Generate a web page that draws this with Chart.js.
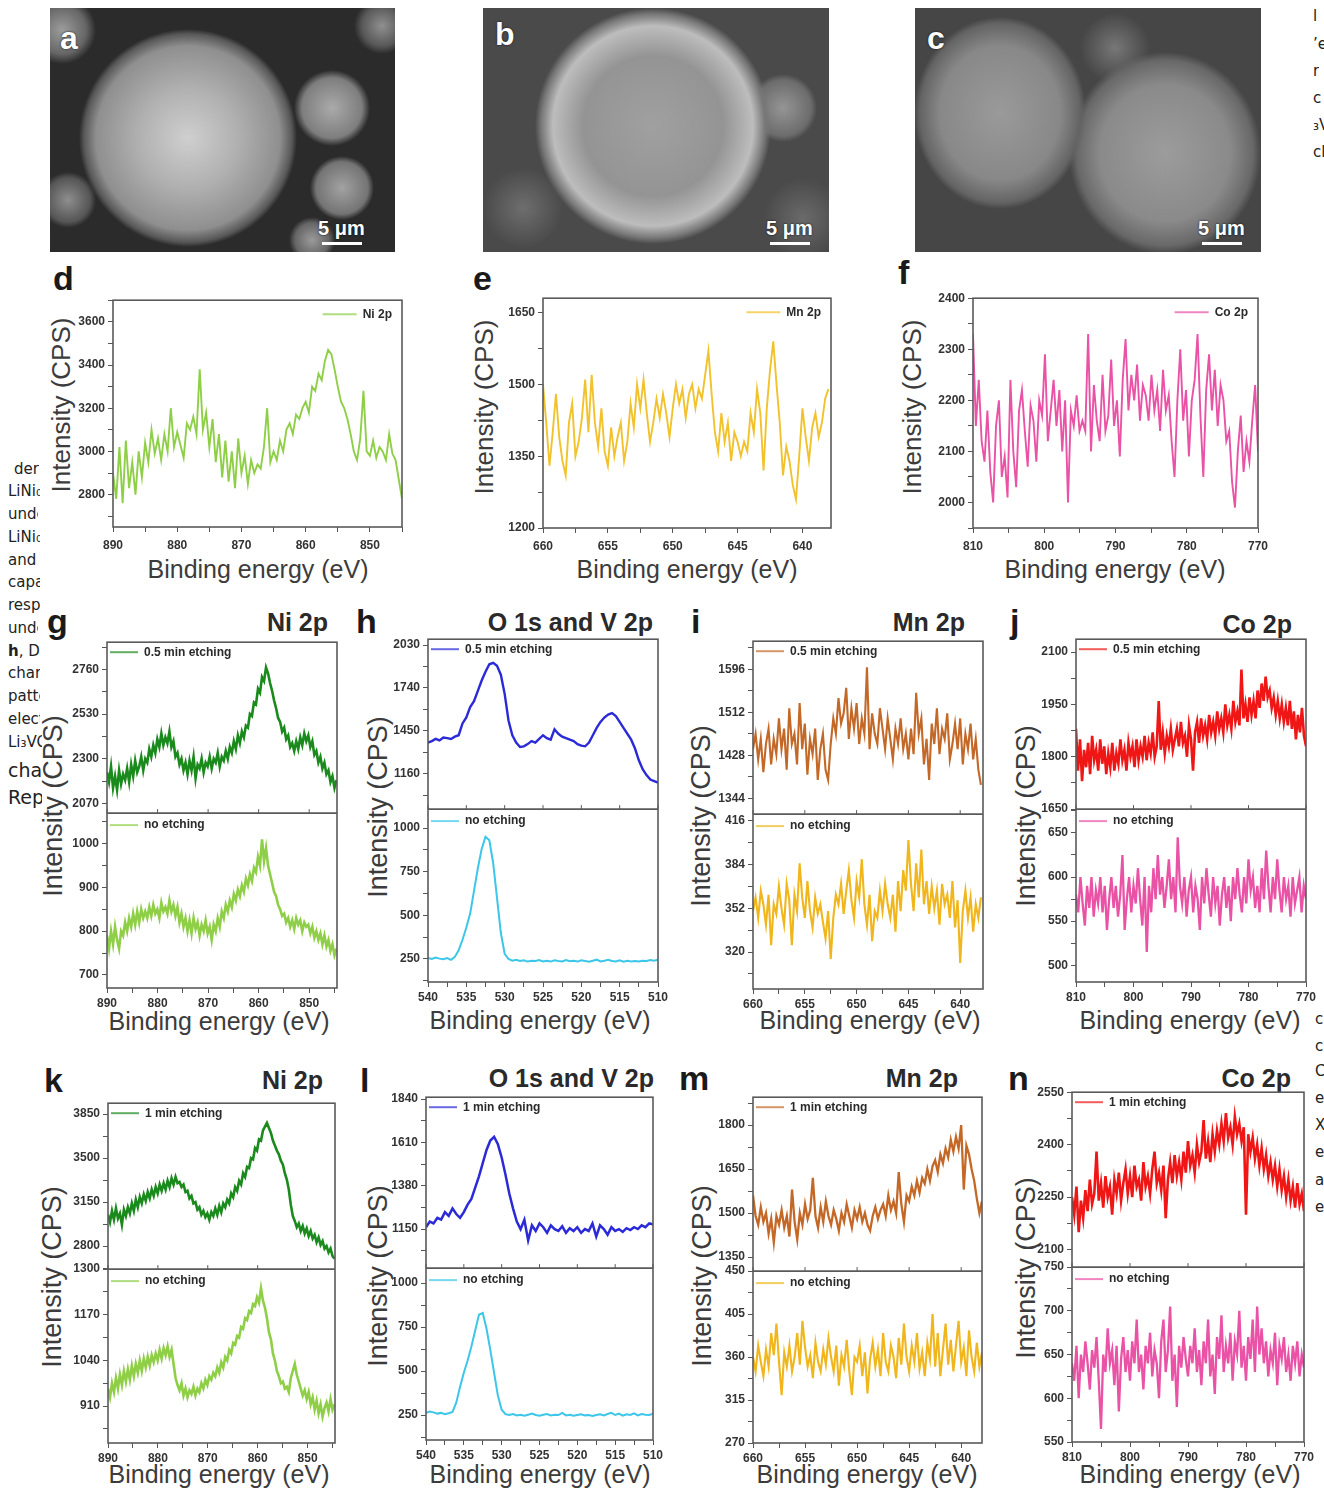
<!DOCTYPE html>
<html><head><meta charset="utf-8">
<script src="https://cdn.jsdelivr.net/npm/chart.js@4.4.1/dist/chart.umd.min.js"></script>
<style>
html,body{margin:0;padding:0;background:#fff;}
#fig{position:relative;width:1324px;height:1490px;overflow:hidden;font-family:'Liberation Sans',Arial,sans-serif;background:#fff;}
.cv{position:absolute;}
.lt{position:absolute;font-weight:bold;color:#1a1a1a;font-size:34px;line-height:1;}
.hd{position:absolute;font-weight:bold;color:#2a2a2a;font-size:25px;line-height:1;white-space:nowrap;transform:translate(-100%,-50%);}
.xt{position:absolute;color:#3c3c3c;font-size:25px;white-space:nowrap;transform:translate(-50%,-50%);line-height:1;}
.yt{position:absolute;color:#3c3c3c;font-size:26px;white-space:nowrap;transform:translate(-50%,-50%) rotate(-90deg);line-height:1;}
.yt.big{font-size:27px;}
.side{position:absolute;font-family:'DejaVu Sans',sans-serif;font-size:15px;color:#222;white-space:nowrap;overflow:hidden;line-height:18px;}
.sem{position:absolute;overflow:hidden;}
.semlab{position:absolute;color:#fff;font-weight:bold;font-size:32px;line-height:1;text-shadow:0 0 2px #000;}
.scl{position:absolute;color:#fff;font-weight:bold;font-size:20px;line-height:1;text-shadow:0 0 2px #000;}
.bar{position:absolute;height:3px;background:#fff;}
</style></head>
<body>
<div id="fig">
  <!-- side text fragments (page text cut by the figure) -->
  <div class="side" style="left:14px;top:460px;width:25px;">derived</div>
  <div class="side" style="left:8px;top:482px;width:32px;">LiNi₀.₈</div>
  <div class="side" style="left:8px;top:505px;width:30px;">under</div>
  <div class="side" style="left:8px;top:528px;width:32px;">LiNi₀.₈</div>
  <div class="side" style="left:8px;top:551px;width:30px;">and</div>
  <div class="side" style="left:8px;top:573px;width:32px;">capacity</div>
  <div class="side" style="left:8px;top:596px;width:32px;">response</div>
  <div class="side" style="left:8px;top:619px;width:30px;">under</div>
  <div class="side" style="left:8px;top:642px;width:32px;"><b>h</b>, Discharge</div>
  <div class="side" style="left:8px;top:664px;width:32px;">charge</div>
  <div class="side" style="left:8px;top:687px;width:32px;">pattern</div>
  <div class="side" style="left:8px;top:710px;width:32px;">electrode</div>
  <div class="side" style="left:8px;top:733px;width:34px;">Li₃VO₄</div>
  <div class="side" style="left:8px;top:759px;width:34px;font-size:19px;line-height:22px;">charge</div>
  <div class="side" style="left:8px;top:786px;width:34px;font-size:19px;line-height:22px;">Rep</div>
  <div class="side" style="left:1313px;top:7px;">l</div>
  <div class="side" style="left:1313px;top:35px;">’e</div>
  <div class="side" style="left:1313px;top:62px;">r</div>
  <div class="side" style="left:1313px;top:89px;">c</div>
  <div class="side" style="left:1313px;top:116px;">₃V</div>
  <div class="side" style="left:1313px;top:143px;">cl</div>
  <div class="side" style="left:1315px;top:1010px;">c</div>
  <div class="side" style="left:1315px;top:1037px;">c</div>
  <div class="side" style="left:1315px;top:1062px;">C</div>
  <div class="side" style="left:1315px;top:1089px;">e</div>
  <div class="side" style="left:1315px;top:1116px;">X</div>
  <div class="side" style="left:1315px;top:1143px;">e</div>
  <div class="side" style="left:1315px;top:1171px;">a</div>
  <div class="side" style="left:1315px;top:1198px;">e</div>

  <!-- SEM micrographs (picture panels) -->
  <div class="sem" style="left:50px;top:8px;width:345px;height:244px;background:
    radial-gradient(circle at 138px 130px, #cfcfcf 0px, #b0b0b0 50px, #8f8f8f 92px, #585858 104px, rgba(0,0,0,0) 109px),
    radial-gradient(circle at 282px 100px, #aaaaaa 0, #7e7e7e 30px, rgba(0,0,0,0) 38px),
    radial-gradient(circle at 292px 180px, #a2a2a2 0, #747474 26px, rgba(0,0,0,0) 32px),
    radial-gradient(circle at 262px 232px, #9a9a9a 0, #666 17px, rgba(0,0,0,0) 23px),
    radial-gradient(circle at 18px 192px, #8e8e8e 0, #565656 22px, rgba(0,0,0,0) 28px),
    radial-gradient(circle at 12px 22px, #9c9c9c 0, #666 24px, rgba(0,0,0,0) 34px),
    radial-gradient(circle at 332px 18px, #909090 0, #585858 20px, rgba(0,0,0,0) 28px),
    #2b2b2b;">
    <div class="semlab" style="left:10px;top:14px;">a</div>
    <div class="scl" style="left:268px;top:210px;">5 μm</div>
    <div class="bar" style="left:272px;top:234px;width:40px;"></div>
  </div>
  <div class="sem" style="left:483px;top:8px;width:346px;height:244px;background:
    radial-gradient(circle at 170px 118px, #a0a0a0 0px, #949494 70px, #bdbdbd 100px, #777 112px, rgba(0,0,0,0) 118px),
    radial-gradient(circle at 300px 100px, #959595 0, #6c6c6c 28px, rgba(0,0,0,0) 34px),
    radial-gradient(circle at 40px 200px, #6e6e6e 0, rgba(0,0,0,0) 40px),
    radial-gradient(circle at 320px 210px, #6a6a6a 0, rgba(0,0,0,0) 40px),
    #4a4a4a;">
    <div class="semlab" style="left:12px;top:10px;">b</div>
    <div class="scl" style="left:283px;top:210px;">5 μm</div>
    <div class="bar" style="left:287px;top:234px;width:40px;"></div>
  </div>
  <div class="sem" style="left:915px;top:8px;width:346px;height:244px;background:
    radial-gradient(ellipse 85px 95px at 85px 105px, #9a9a9a 0px, #888 60px, #646464 80px, rgba(0,0,0,0) 86px),
    radial-gradient(ellipse 95px 100px at 250px 145px, #9c9c9c 0px, #8a8a8a 65px, #686868 88px, rgba(0,0,0,0) 96px),
    radial-gradient(circle at 200px 40px, #777 0, rgba(0,0,0,0) 35px),
    #464646;">
    <div class="semlab" style="left:12px;top:14px;">c</div>
    <div class="scl" style="left:283px;top:210px;">5 μm</div>
    <div class="bar" style="left:287px;top:234px;width:40px;"></div>
  </div>

  <!-- panel letters -->
  <div class="lt" style="left:53px;top:261px;">d</div>
  <div class="lt" style="left:473px;top:261px;">e</div>
  <div class="lt" style="left:898px;top:255px;">f</div>
  <div class="lt" style="left:47px;top:604px;">g</div>
  <div class="lt" style="left:356px;top:604px;">h</div>
  <div class="lt" style="left:691px;top:604px;">i</div>
  <div class="lt" style="left:1010px;top:604px;">j</div>
  <div class="lt" style="left:44px;top:1063px;">k</div>
  <div class="lt" style="left:360px;top:1063px;">l</div>
  <div class="lt" style="left:679px;top:1061px;">m</div>
  <div class="lt" style="left:1008px;top:1061px;">n</div>

  <!-- panel headings -->
  <div class="hd" style="left:328px;top:622px;">Ni 2p</div>
  <div class="hd" style="left:653px;top:622px;">O 1s and V 2p</div>
  <div class="hd" style="left:965px;top:622px;">Mn 2p</div>
  <div class="hd" style="left:1292px;top:624px;">Co 2p</div>
  <div class="hd" style="left:323px;top:1080px;">Ni 2p</div>
  <div class="hd" style="left:654px;top:1078px;">O 1s and V 2p</div>
  <div class="hd" style="left:958px;top:1078px;">Mn 2p</div>
  <div class="hd" style="left:1291px;top:1078px;">Co 2p</div>

  <!-- axis titles -->
  <div class="xt" style="left:258px;top:569px;">Binding energy (eV)</div>
  <div class="xt" style="left:687px;top:569px;">Binding energy (eV)</div>
  <div class="xt" style="left:1115px;top:569px;">Binding energy (eV)</div>
  <div class="xt" style="left:219px;top:1021px;">Binding energy (eV)</div>
  <div class="xt" style="left:540px;top:1020px;">Binding energy (eV)</div>
  <div class="xt" style="left:870px;top:1020px;">Binding energy (eV)</div>
  <div class="xt" style="left:1190px;top:1020px;">Binding energy (eV)</div>
  <div class="xt" style="left:219px;top:1474px;">Binding energy (eV)</div>
  <div class="xt" style="left:540px;top:1474px;">Binding energy (eV)</div>
  <div class="xt" style="left:867px;top:1474px;">Binding energy (eV)</div>
  <div class="xt" style="left:1190px;top:1474px;">Binding energy (eV)</div>

  <div class="yt" style="left:61px;top:405px;">Intensity (CPS)</div>
  <div class="yt" style="left:484px;top:407px;">Intensity (CPS)</div>
  <div class="yt" style="left:912px;top:407px;">Intensity (CPS)</div>
  <div class="yt big" style="left:53px;top:806px;">Intensity (CPS)</div>
  <div class="yt big" style="left:378px;top:807px;">Intensity (CPS)</div>
  <div class="yt big" style="left:701px;top:816px;">Intensity (CPS)</div>
  <div class="yt big" style="left:1026px;top:816px;">Intensity (CPS)</div>
  <div class="yt big" style="left:52px;top:1277px;">Intensity (CPS)</div>
  <div class="yt big" style="left:378px;top:1276px;">Intensity (CPS)</div>
  <div class="yt big" style="left:702px;top:1276px;">Intensity (CPS)</div>
  <div class="yt big" style="left:1026px;top:1268px;">Intensity (CPS)</div>
</div>

<script>
// ---------------- DATA ----------------
// energy grids of the sampled spectra [first point, last point] (eV)
const gridNi = [890, 844.6];
const gridMn = [660, 638];
const gridCo = [810, 770];
const gridOV = [540, 510];

// x-axis tick labels
const xTicksNi = [890, 880, 870, 860, 850];
const xTicksMn = [660, 655, 650, 645, 640];
const xTicksCo = [810, 800, 790, 780, 770];
const xTicksOV = [540, 535, 530, 525, 520, 515, 510];

// y-axis tick labels
const yTicksD = [2800, 3000, 3200, 3400, 3600];
const yTicksE = [1200, 1350, 1500, 1650];
const yTicksF = [2000, 2100, 2200, 2300, 2400];
const yTicksGup = [2070, 2300, 2530, 2760];
const yTicksGlo = [700, 800, 900, 1000];
const yTicksHup = [1160, 1450, 1740, 2030];
const yTicksHlo = [250, 500, 750, 1000];
const yTicksIup = [1344, 1428, 1512, 1596];
const yTicksIlo = [320, 352, 384, 416];
const yTicksJup = [1650, 1800, 1950, 2100];
const yTicksJlo = [500, 550, 600, 650];
const yTicksKup = [2800, 3150, 3500, 3850];
const yTicksKlo = [910, 1040, 1170, 1300];
const yTicksLup = [1150, 1380, 1610, 1840];
const yTicksLlo = [250, 500, 750, 1000];
const yTicksMup = [1350, 1500, 1650, 1800];
const yTicksMlo = [270, 315, 360, 405, 450];
const yTicksNup = [2100, 2250, 2400, 2550];
const yTicksNlo = [550, 600, 650, 700, 750];

// panel d: Ni 2p (CPS)
const d_Ni2p = [2900,2780,3020,2760,3050,2830,2950,2800,3000,2880,3040,2950,3100,2990,3060,2960,3080,3000,3200,3020,
  3090,3030,2970,3130,3100,3160,3080,3380,3100,3180,3020,3150,2950,3080,2880,3050,2860,3000,2830,3060,
  2900,2980,2850,2960,2900,2940,2920,3020,3200,2950,3000,2960,3050,3000,3100,3130,3080,3170,3150,3200,
  3230,3180,3300,3280,3360,3330,3420,3470,3450,3380,3300,3230,3200,3150,3080,3000,2960,3060,3280,3000,
  2980,3050,2970,3020,3000,2960,3080,2990,2960,2870,2780];
// panel e: Mn 2p
const e_Mn2p = [1500,1420,1330,1400,1480,1390,1340,1310,1420,1460,1350,1380,1430,1510,1400,1520,1420,1370,1450,1360,
  1330,1410,1350,1390,1420,1340,1380,1460,1410,1500,1450,1510,1440,1380,1420,1470,1430,1480,1440,1390,
  1450,1500,1460,1490,1430,1480,1500,1450,1490,1470,1520,1570,1480,1400,1360,1440,1380,1420,1340,1400,
  1380,1350,1380,1360,1440,1400,1490,1440,1320,1450,1530,1590,1500,1420,1310,1370,1340,1290,1260,1350,
  1450,1390,1340,1410,1440,1390,1420,1470,1490];
// panel f: Co 2p
const f_Co2p = [2330,2150,2240,2120,2080,2180,2060,2000,2150,2200,2050,2090,2010,2240,2100,2030,2180,2220,2140,2070,
  2190,2160,2080,2200,2170,2290,2120,2180,2240,2150,2220,2100,2200,2000,2180,2150,2210,2140,2160,2140,
  2330,2100,2230,2160,2120,2250,2140,2170,2280,2150,2200,2090,2240,2320,2180,2250,2200,2270,2160,2230,
  2210,2160,2250,2180,2220,2140,2260,2180,2210,2120,2050,2200,2300,2160,2220,2090,2200,2240,2330,2170,
  2050,2220,2290,2180,2260,2150,2230,2200,2120,2140,2040,1990,2100,2170,2060,2120,2080,2160,2230,2100];

// panel g: Ni 2p
const g_Ni_05min = [2230,2180,2260,2150,2210,2140,2240,2170,2220,2190, 2250,2180,2270,2210,2290,2230,2260,2310,2240,2300,
  2280,2350,2310,2370,2330,2400,2360,2430,2370,2410, 2380,2440,2360,2390,2310,2330,2270,2300,2240,2280,
  2220,2290,2240,2310,2200,2270,2250,2300,2230,2280, 2260,2310,2250,2300,2280,2330,2260,2310,2290,2340,
  2300,2360,2330,2390,2350,2420,2380,2440,2410,2470, 2460,2530,2520,2590,2580,2660,2640,2720,2700,2770,
  2740,2690,2650,2600,2560,2510,2490,2440,2460,2400, 2420,2360,2380,2340,2390,2350,2410,2370,2430,2390,
  2420,2360,2390,2320,2340,2280,2310,2250,2280,2220, 2240,2180,2210,2150,2190];
const g_Ni_none = [790,760,800,770,810,780,760,800,790,820, 800,830,810,840,815,845,820,850,830,845,
  830,855,835,860,840,850,830,865,845,855, 840,870,845,860,835,855,820,840,810,830,
  800,825,795,830,805,820,790,815,800,825, 795,810,780,815,800,830,810,845,830,860,
  845,870,855,885,870,895,880,905,890,920, 905,930,915,945,935,970,950,1010,960,990,
  950,930,910,890,880,860,850,835,840,820, 830,810,825,805,830,815,825,800,820,810,
  815,795,810,785,800,780,795,770,790,765, 780,755,770,745,760];

// panel h: O 1s and V 2p
const h_OV_05min = [1370,1380,1395,1385,1405,1400,1395,1410,1420,1500,1540,1610,1650,1720,1790,1850,1900,1910,1890,1830,
  1700,1520,1420,1370,1340,1345,1360,1380,1370,1395,1420,1400,1390,1460,1430,1410,1400,1390,1380,1360,
  1350,1345,1370,1420,1470,1510,1540,1560,1570,1550,1510,1470,1430,1390,1330,1250,1190,1150,1120,1110,1100];
const h_OV_none = [255,250,258,252,248,255,245,262,300,360,430,510,640,770,880,950,930,800,600,400,
  280,250,240,245,238,242,235,240,238,244,236,240,235,242,238,236,244,237,240,235,
  242,238,234,240,246,236,240,245,238,236,242,234,240,236,238,235,240,238,244,240,246];

// panel i: Mn 2p
const i_Mn_05min = [1440,1470,1420,1460,1395,1450,1480,1410,1460,1430,1500,1440,1480,1400,1520,1450,1470,1410,1530,1440,
  1490,1390,1460,1430,1480,1380,1440,1470,1400,1380,1450,1500,1470,1540,1490,1510,1560,1460,1520,1480,
  1530,1450,1500,1470,1600,1440,1510,1470,1450,1520,1480,1440,1500,1460,1420,1480,1450,1500,1440,1470,
  1420,1480,1430,1550,1470,1500,1410,1460,1380,1490,1450,1520,1430,1480,1460,1510,1420,1450,1490,1440,
  1500,1410,1470,1440,1490,1420,1460,1400,1370];
const i_Mn_none = [350,360,345,365,355,340,362,325,355,348,368,352,340,370,358,325,362,350,385,360,
  345,372,350,338,360,348,355,342,330,350,315,345,362,355,370,348,365,380,358,345,
  372,360,388,355,340,362,328,350,345,365,350,370,355,345,362,335,372,350,380,365,
  402,370,350,385,360,395,355,372,348,368,352,365,340,370,355,362,345,372,338,358,
  312,350,365,345,360,335,355,345,360];

// panel j: Co 2p
const j_Co_05min = [1880,1760,1850,1730,1820,1770,1840,1750,1860,1790, 1820,1760,1850,1780,1830,1750,1810,1770,1840,1760,
  1810,1780,1850,1790,1820,1760,1840,1800,1830,1770, 1850,1790,1830,1800,1860,1790,1840,1810,1870,1800,
  1830,1960,1820,1870,1810,1860,1830,1880,1820,1850, 1880,1830,1900,1840,1860,1800,1890,1850,1760,1870,
  1900,1840,1910,1860,1890,1850,1920,1870,1900,1860, 1930,1880,1910,1870,1950,1890,1920,1880,1960,1900,
  1930,1890,2050,1910,1950,1900,1970,1920,1960,1910, 1990,1940,2010,1960,2030,1970,1990,1940,1970,1920,
  1960,1910,1950,1900,1940,1890,1960,1880,1930,1850, 1920,1870,1940,1860,1830];
const j_Co_none = [580,560,600,570,545,590,565,600,555,585, 570,600,560,590,540,575,600,565,590,555,
  580,625,540,575,600,560,590,570,610,575, 545,600,515,590,560,610,575,625,580,600,
  565,590,620,575,600,560,645,590,570,600, 555,585,600,560,590,575,540,600,570,610,
  580,555,600,570,590,545,580,600,565,590, 550,600,575,610,580,560,600,570,620,585,
  600,565,590,560,610,575,630,590,560,600, 575,620,585,560,600,575,590,555,600,570,
  585,600,560,590,575];

// panel k: Ni 2p
const k_Ni_1min = [3050,2990,3080,3010,3100,3020,3060,2970,3090,3040, 3110,3060,3140,3080,3170,3110,3190,3140,3210,3160,
  3230,3180,3250,3200,3270,3220,3290,3240,3300,3250, 3320,3270,3340,3290,3350,3300,3310,3270,3290,3230,
  3240,3180,3200,3140,3150,3090,3110,3050,3080,3030, 3060,3010,3070,3040,3100,3050,3120,3070,3140,3110,
  3170,3140,3220,3190,3270,3240,3320,3290,3380,3350, 3430,3420,3500,3490,3580,3560,3650,3640,3720,3750,
  3780,3740,3700,3640,3600,3560,3530,3480,3450,3380, 3330,3250,3130,3040,3000,2950,2980,2920,2960,2900,
  2940,2880,2920,2860,2890,2830,2870,2810,2840,2780, 2800,2750,2780,2720,2700];
const k_Ni_none = [960,935,975,950,990,960,1000,970,1010,980, 1015,985,1025,995,1030,1005,1040,1010,1045,1020,
  1050,1025,1055,1035,1060,1040,1070,1045,1075,1055, 1080,1050,1070,1030,990,970,955,975,940,960,
  935,955,945,965,940,960,950,975,960,985, 970,995,985,1005,995,1020,1005,1035,1020,1050,
  1040,1070,1060,1090,1085,1110,1105,1135,1130,1160, 1155,1180,1175,1200,1195,1220,1205,1245,1210,1190,
  1160,1120,1100,1060,1040,1010,995,975,980,960, 965,950,990,1010,1030,1000,980,960,940,955,
  930,950,915,935,900,925,890,915,880,905, 920,895,930,900,915];

// panel l: O 1s and V 2p
const l_OV_1min = [1160,1190,1180,1210,1200,1240,1220,1260,1230,1210,1240,1280,1310,1370,1430,1500,1570,1620,1640,1600,
  1530,1440,1340,1260,1190,1150,1200,1090,1170,1140,1180,1160,1130,1170,1150,1140,1165,1130,1155,1140,
  1160,1130,1150,1140,1180,1110,1170,1150,1120,1160,1140,1150,1135,1155,1145,1160,1150,1170,1160,1180,1175];
const l_OV_none = [262,270,265,258,262,255,260,268,320,410,490,560,640,730,820,830,740,620,490,360,
  280,255,250,256,248,252,246,252,258,250,246,252,256,248,252,250,262,248,252,246,
  250,254,248,250,244,250,254,248,256,262,250,258,246,254,250,260,248,256,252,250,258];

// panel m: Mn 2p
const m_Mn_1min = [1560,1490,1460,1520,1470,1500,1430,1480,1400,1490,1460,1510,1450,1490,1420,1580,1470,1410,1500,1460,
  1530,1480,1510,1620,1490,1450,1520,1470,1540,1490,1460,1510,1480,1440,1500,1470,1530,1490,1450,1510,
  1480,1520,1470,1500,1460,1440,1490,1520,1480,1510,1530,1490,1560,1510,1540,1500,1640,1530,1470,1560,
  1540,1590,1560,1610,1570,1620,1600,1650,1610,1660,1680,1640,1700,1670,1720,1690,1750,1710,1760,1720,
  1800,1580,1730,1700,1650,1610,1550,1500,1540];
const m_Mn_none = [360,345,372,355,340,368,350,385,362,395,355,320,365,350,372,345,360,385,352,398,
  370,350,362,338,375,355,345,368,352,380,360,345,372,330,362,350,378,345,320,360,
  355,372,340,365,322,358,375,350,368,340,385,355,345,372,360,338,380,352,395,360,
  345,372,355,385,348,365,340,375,358,405,350,385,340,368,395,352,378,345,372,398,
  355,370,340,388,360,345,375,350,365];

// panel n: Co 2p
const n_Co_1min = [2250,2200,2280,2150,2240,2190,2270,2210,2300,2230, 2260,2380,2240,2290,2220,2310,2250,2280,2200,2300,
  2260,2320,2240,2290,2330,2260,2310,2250,2340,2280, 2300,2240,2350,2280,2310,2260,2330,2380,2290,2320,
  2270,2340,2190,2300,2350,2290,2370,2310,2350,2300, 2380,2320,2410,2340,2370,2320,2400,2350,2380,2470,
  2360,2410,2350,2430,2380,2440,2400,2460,2410,2490, 2420,2450,2400,2480,2430,2460,2410,2450,2200,2430,
  2380,2420,2360,2400,2340,2390,2330,2370,2310,2350, 2300,2340,2280,2330,2270,2310,2250,2300,2240,2280,
  2220,2290,2230,2260,2210];
const n_Co_none = [640,620,660,600,650,630,665,640,610,655, 635,670,620,565,650,630,680,640,655,615,
  660,585,645,670,630,655,620,665,640,690, 630,650,610,660,640,675,625,655,640,600,
  665,690,630,655,705,620,650,590,660,635, 670,645,625,660,640,680,630,655,615,665,
  640,690,625,650,605,670,645,695,630,660, 640,675,620,665,650,700,635,660,620,670,
  645,690,630,705,650,680,640,665,625,655, 640,675,615,660,645,670,630,650,620,660,
  640,665,625,650,635];

// ---------------- CHART HELPERS ----------------
const FONT = "'Liberation Sans', Arial, sans-serif";
const PT = 10, PR = 16, XH = 26, YW = 46;
const fig = document.getElementById('fig');

function series(grid, values) {
  const a = grid[0], b = grid[1], n = values.length;
  return values.map((v, i) => ({ x: a + (b - a) * i / (n - 1), y: v }));
}
function tickSet(majors, min, max) {
  const m = majors.slice().sort((p, q) => p - q);
  const step = m[1] - m[0];
  const out = [];
  for (let k = -2; k <= (m.length - 1) * 2 + 2; k++) {
    const v = +(m[0] + k * step / 2).toFixed(4);
    if (v >= min - 1e-6 && v <= max + 1e-6) out.push({ value: v });
  }
  return out;
}
const tickFont = { family: FONT, size: 12, weight: 'bold' };
const tickGrid = { display: true, drawOnChartArea: false, drawTicks: true, tickLength: 5, color: '#555', lineWidth: 1 };

function yAxis(majors, range, extra) {
  return Object.assign({
    type: 'linear', position: 'left', min: range[0], max: range[1],
    afterFit: s => { s.width = YW; },
    afterBuildTicks: s => { s.ticks = tickSet(majors, range[0], range[1]); },
    ticks: { callback: v => majors.includes(v) ? String(v) : '', font: tickFont, color: '#333', padding: 3, autoSkip: false },
    grid: tickGrid, border: { display: false }
  }, extra || {});
}
function xAxis(majors, range, pad) {
  return {
    type: 'linear', reverse: true, min: range[0], max: range[1],
    afterFit: s => { s.height = XH; },
    afterBuildTicks: s => { s.ticks = tickSet(majors, range[0], range[1]); },
    ticks: { callback: v => majors.includes(v) ? String(v) : '', font: tickFont, color: '#333', padding: pad || 3, autoSkip: false, maxRotation: 0 },
    grid: tickGrid, border: { display: false }
  };
}

const framePlugin = {
  id: 'frame',
  afterDraw(chart) {
    const { ctx, chartArea: a } = chart;
    ctx.save();
    ctx.strokeStyle = '#5a5a5a'; ctx.lineWidth = 1.6;
    ctx.strokeRect(a.left, a.top, a.right - a.left, a.bottom - a.top);
    const up = chart.scales.yT;
    if (up) {
      const y = up.bottom;
      ctx.beginPath(); ctx.moveTo(a.left, y); ctx.lineTo(a.right, y); ctx.stroke();
      ctx.lineWidth = 1;
      const xs = chart.scales.x;
      xs.ticks.forEach(t => {
        if (!t.label) return;
        const px = xs.getPixelForValue(t.value);
        ctx.beginPath(); ctx.moveTo(px, y); ctx.lineTo(px, y - 4); ctx.stroke();
      });
    }
    ctx.restore();
  }
};
const legendPlugin = {
  id: 'inlegend',
  afterDatasetsDraw(chart, args, opts) {
    const { ctx, chartArea: a } = chart;
    ctx.save();
    ctx.font = "bold 12px " + FONT;
    ctx.textBaseline = 'middle';
    chart.data.datasets.forEach(ds => {
      const sc = chart.scales[ds.yAxisID];
      let x0, y, len;
      if (opts.pos === 'right') {
        const tw = ctx.measureText(ds.label).width;
        len = 34; x0 = a.right - 10 - tw - 6 - len; y = a.top + 14;
      } else {
        len = 28; x0 = a.left + 3; y = sc.top + (ds.yAxisID === 'yT' ? 10 : 12);
      }
      ctx.globalAlpha = 0.7; ctx.strokeStyle = ds.borderColor; ctx.lineWidth = 2;
      ctx.beginPath(); ctx.moveTo(x0, y); ctx.lineTo(x0 + len, y); ctx.stroke();
      ctx.globalAlpha = 1; ctx.fillStyle = '#2a2a2a';
      ctx.fillText(ds.label, x0 + len + 6, y);
    });
    ctx.restore();
  }
};

function makeChart(rect, scales, datasets, legendPos) {
  const c = document.createElement('canvas');
  const w = rect.R - rect.L + YW + PR, h = rect.B - rect.T + PT + XH;
  c.width = w; c.height = h;
  c.className = 'cv';
  c.style.left = (rect.L - YW) + 'px'; c.style.top = (rect.T - PT) + 'px';
  c.style.width = w + 'px'; c.style.height = h + 'px';
  fig.appendChild(c);
  new Chart(c, {
    type: 'line',
    data: { datasets },
    options: {
      responsive: false, animation: false, devicePixelRatio: 1,
      layout: { padding: { left: 0, top: PT, right: PR, bottom: 0 } },
      plugins: { legend: { display: false }, tooltip: { enabled: false }, inlegend: { pos: legendPos } },
      elements: { point: { radius: 0 }, line: { tension: 0, borderWidth: 1.4 } },
      scales
    },
    plugins: [framePlugin, legendPlugin]
  });
}
function ds(label, color, grid, values, axis, width) {
  return { label, borderColor: color, backgroundColor: color, data: series(grid, values), yAxisID: axis, xAxisID: 'x', borderWidth: width || 1.4, fill: false };
}
function single(rect, xt, xr, yt, yr, label, color, grid, values) {
  makeChart(rect, { x: xAxis(xt, xr, 6), y: yAxis(yt, yr) }, [ds(label, color, grid, values, 'y', 1.9)], 'right');
}
function stacked(rect, xt, xr, up, lo, wT, wB) {
  makeChart(rect, {
    x: xAxis(xt, xr, 3),
    yB: yAxis(lo.ticks, lo.range, { stack: 'v', stackWeight: wB }),
    yT: yAxis(up.ticks, up.range, { stack: 'v', stackWeight: wT })
  }, [
    ds(up.label, up.color, up.grid, up.values, 'yT', up.w || 2.1),
    ds(lo.label, lo.color, lo.grid, lo.values, 'yB', lo.w || 2.1)
  ], 'left');
}

// ---------------- PANELS ----------------
const C = {
  niLight: '#8fcf48', niDark: '#1a8a1c', mnYel: '#f2c22c', mnGold: '#f0b61c', mnBrown: '#c46828',
  coPink: '#ea52a6', coRed: '#f01616', ovBlue: '#2a2ad8', ovCyan: '#3cc6ea'
};

single({ L: 113, T: 300, R: 402, B: 527 }, xTicksNi, [845, 890], yTicksD, [2650, 3700], 'Ni 2p', C.niLight, [890, 845], d_Ni2p);
single({ L: 543, T: 298, R: 831, B: 528 }, xTicksMn, [637.8, 660], yTicksE, [1200, 1680], 'Mn 2p', C.mnYel, gridMn, e_Mn2p);
single({ L: 973, T: 298, R: 1258, B: 528 }, xTicksCo, [770, 810], yTicksF, [1950, 2400], 'Co 2p', C.coPink, gridCo, f_Co2p);

stacked({ L: 107, T: 642, R: 337, B: 988 }, xTicksNi, [844.5, 890],
  { label: '0.5 min etching', color: C.niDark, grid: gridNi, values: g_Ni_05min, ticks: yTicksGup, range: [2020, 2900], w: 2.6 },
  { label: 'no etching', color: C.niLight, grid: gridNi, values: g_Ni_none, ticks: yTicksGlo, range: [670, 1070], w: 2.6 }, 171, 175);
stacked({ L: 428, T: 639, R: 658, B: 982 }, xTicksOV, [510, 540],
  { label: '0.5 min etching', color: C.ovBlue, grid: gridOV, values: h_OV_05min, ticks: yTicksHup, range: [920, 2070], w: 2.4 },
  { label: 'no etching', color: C.ovCyan, grid: gridOV, values: h_OV_none, ticks: yTicksHlo, range: [118, 1109], w: 2 }, 170, 173);
stacked({ L: 753, T: 641, R: 983, B: 989 }, xTicksMn, [637.8, 660],
  { label: '0.5 min etching', color: C.mnBrown, grid: gridMn, values: i_Mn_05min, ticks: yTicksIup, range: [1313, 1651] },
  { label: 'no etching', color: C.mnGold, grid: gridMn, values: i_Mn_none, ticks: yTicksIlo, range: [293, 421] }, 173, 175);
stacked({ L: 1076, T: 639, R: 1306, B: 982 }, xTicksCo, [770, 810],
  { label: '0.5 min etching', color: C.coRed, grid: gridCo, values: j_Co_05min, ticks: yTicksJup, range: [1650, 2137], w: 2.6 },
  { label: 'no etching', color: C.coPink, grid: gridCo, values: j_Co_none, ticks: yTicksJlo, range: [481, 677], w: 2.3 }, 170, 173);

stacked({ L: 108, T: 1103, R: 335, B: 1443 }, xTicksNi, [844.5, 890],
  { label: '1 min etching', color: C.niDark, grid: gridNi, values: k_Ni_1min, ticks: yTicksKup, range: [2617, 3937], w: 2.6 },
  { label: 'no etching', color: C.niLight, grid: gridNi, values: k_Ni_none, ticks: yTicksKlo, range: [805, 1300], w: 2.6 }, 166, 174);
stacked({ L: 426, T: 1097, R: 653, B: 1440 }, xTicksOV, [510, 540],
  { label: '1 min etching', color: C.ovBlue, grid: gridOV, values: l_OV_1min, ticks: yTicksLup, range: [943, 1850], w: 2.5 },
  { label: 'no etching', color: C.ovCyan, grid: gridOV, values: l_OV_none, ticks: yTicksLlo, range: [108, 1085], w: 2 }, 171, 172);
stacked({ L: 753, T: 1097, R: 982, B: 1443 }, xTicksMn, [638, 660],
  { label: '1 min etching', color: C.mnBrown, grid: gridMn, values: m_Mn_1min, ticks: yTicksMup, range: [1302, 1895], w: 2.3 },
  { label: 'no etching', color: C.mnGold, grid: gridMn, values: m_Mn_none, ticks: yTicksMlo, range: [270, 450] }, 174, 172);
stacked({ L: 1072, T: 1092, R: 1304, B: 1442 }, xTicksCo, [770, 810],
  { label: '1 min etching', color: C.coRed, grid: gridCo, values: n_Co_1min, ticks: yTicksNup, range: [2050, 2550], w: 2.6 },
  { label: 'no etching', color: C.coPink, grid: gridCo, values: n_Co_none, ticks: yTicksNlo, range: [550, 750], w: 2.3 }, 175, 175);
</script>
</body></html>
